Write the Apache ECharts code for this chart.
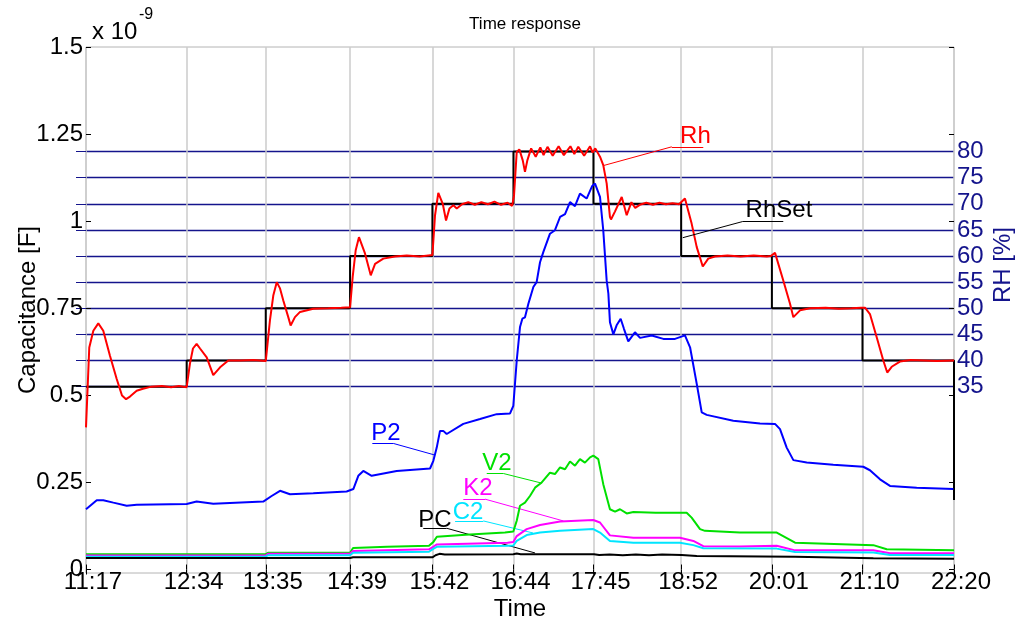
<!DOCTYPE html>
<html><head><meta charset="utf-8">
<script src="https://cdn.jsdelivr.net/npm/echarts@6/dist/echarts.min.js"></script>
<style>html,body{margin:0;padding:0;background:#fff}#c{width:1024px;height:627px}</style>
</head><body><div id="c"></div>
<script>
// ---- data (time in minutes after 11:17) ----
const tickTimes = [0, 76.9, 137.3, 201.7, 264.6, 326.5, 387.6, 454.6, 523.9, 593.1, 663];
const tickLabels = ['11:17','12:34','13:35','14:39','15:42','16:44','17:45','18:52','20:01','21:10','22:20'];
const capTicks = [0, 0.25, 0.5, 0.75, 1, 1.25, 1.5];
const rhTicks = [35, 40, 45, 50, 55, 60, 65, 70, 75, 80];

// relative humidity set point [%]
const rhSet = [[0,35],[76.9,35],[76.9,40],[137.3,40],[137.3,50],[201.7,50],[201.7,60],[264.6,60],[264.6,70],[326.5,70],[326.5,80],[387.6,80],[387.6,70],[454.6,70],[454.6,60],[523.9,60],[523.9,50],[593.1,50],[593.1,40],[663,40],[663,13.3]];
// measured relative humidity [%]
const rh = [[0,27.2],[2.5,42.5],[5.6,45.7],[9.4,47.1],[13.2,45.7],[18.3,40.9],[23.4,36.5],[27.5,33.3],[30.6,32.6],[33.6,33.1],[38.7,34.2],[43.5,34.6],[50,35.0],[58,35.1],[65,34.9],[71,35.1],[76.9,34.9],
[79.4,39.4],[81.7,42.3],[84.5,43.2],[87.1,42.3],[92.2,40.6],[97.2,37.2],[102.4,38.7],[108.7,40.0],[118,40.0],[128,40.1],[137.3,39.9],
[140.5,47.7],[143.1,52.5],[145.7,55.0],[148.2,53.8],[150.7,51.5],[154.5,48.3],[156.3,46.7],[159.6,48.3],[163.5,49.3],[173.6,49.9],[185,50.0],[195,50.1],[201.7,50.2],
[203.7,56.0],[206,61.1],[208.5,63.6],[213.1,60.5],[217.5,56.3],[220.8,58.5],[227.1,59.5],[236,59.9],[245,60.1],[255,59.9],[264.6,60.2],
[266.6,67.8],[269.1,72.1],[272.5,70.0],[275,66.8],[277.6,69.1],[280.6,69.7],[283.2,69.1],[287.2,69.9],[292,70.3],[297,69.8],[302,70.3],[307,69.9],[312,70.4],[317,69.8],[322,70.2],[325.5,69.6],
[326.9,71.5],[329,79.9],[331,80.4],[333.6,78.3],[335.3,76.1],[337.1,78.3],[340,80.6],[343.5,79.0],[347,80.8],[349.5,79.3],[352.5,80.9],[356.5,79.2],[361,81.0],[365,79.3],[370,81.0],[373,79.5],[376,80.9],[380.5,79.2],[385,81.0],[387,79.8],[389,80.6],
[392.6,79.0],[395.1,77.4],[397.7,73.9],[400.2,67.5],[401,67.0],[404,68.5],[409.2,71.3],[413,67.8],[416.6,70.3],[419.5,69.2],[423,69.8],[428,70.2],[433,69.8],[438,70.2],[443,69.9],[448,70.1],[453,69.9],
[457.5,71.0],[462.6,66.2],[466.5,61.7],[471.1,58.0],[475.3,59.5],[480.4,59.9],[490,60.1],[500,59.9],[510,60.1],[520,59.9],[523,60.0],
[526.3,60.6],[532.6,55.3],[537.7,50.9],[540.3,48.3],[545.4,49.6],[553,50.0],[565,50.1],[575,49.9],[585,50.0],[592,50.1],[595,50.1],
[598.8,48.9],[603.9,44.5],[609,40.0],[612,37.7],[615.4,38.8],[621.7,39.8],[630,40.1],[640,40.0],[650,39.9],[663,40.0]];
// capacitances [x1e-9 F]
const p2 = [[0,0.173],[8.2,0.199],[13.2,0.199],[20.9,0.192],[31.1,0.183],[38.7,0.186],[76.9,0.188],[84.5,0.195],[97.2,0.189],[135.4,0.195],[141.8,0.211],[148.2,0.226],[155.8,0.216],[173.6,0.219],[199.1,0.224],[204.2,0.231],[208,0.269],[211.8,0.283],[218.2,0.269],[237.3,0.283],[262.8,0.290],[265.3,0.312],[267.9,0.350],[270.4,0.398],[272.9,0.398],[275.5,0.389],[288.2,0.418],[301,0.432],[313.7,0.446],[323.9,0.448],[326.4,0.470],[329,0.600],[331.5,0.696],[333.3,0.720],[335.3,0.724],[337.9,0.763],[341.7,0.811],[344.2,0.825],[346.8,0.882],[349.3,0.911],[354.4,0.964],[358.2,0.974],[362.1,1.012],[365.9,1.020],[369.7,1.055],[373.5,1.043],[377.3,1.079],[382.4,1.065],[386.5,1.100],[388.8,1.108],[392.6,1.070],[395.1,0.974],[397.7,0.830],[399,0.792],[400.2,0.710],[402.8,0.675],[405.3,0.701],[408.4,0.720],[410.9,0.691],[414.2,0.655],[419.3,0.681],[423.2,0.665],[432.1,0.672],[441,0.662],[449.9,0.662],[457.5,0.672],[461.4,0.638],[466.5,0.533],[470.3,0.451],[474.1,0.444],[494.4,0.427],[514.8,0.419],[526.3,0.418],[530.1,0.403],[535.2,0.350],[540.3,0.314],[550.5,0.307],[570.8,0.301],[593.7,0.295],[598.8,0.285],[606.5,0.259],[614.1,0.240],[634.5,0.235],[662.5,0.231]];
const v2 = [[0,0.044],[137.3,0.044],[139,0.048],[201.7,0.048],[204,0.062],[230,0.065],[262,0.068],[265.5,0.080],[268,0.094],[290,0.100],[320,0.106],[326.4,0.109],[329,0.140],[331.5,0.183],[335.3,0.192],[339.1,0.211],[343,0.235],[348.1,0.250],[354.4,0.278],[358.2,0.274],[362.1,0.293],[365.9,0.288],[369.7,0.310],[373.5,0.298],[377.3,0.317],[381.1,0.307],[385,0.322],[387.5,0.327],[391.3,0.317],[395.1,0.245],[400.2,0.173],[404.1,0.166],[407.9,0.173],[413,0.161],[418.1,0.165],[435,0.163],[458.8,0.163],[462.6,0.149],[469,0.116],[472.8,0.111],[499.5,0.106],[527.6,0.106],[541.6,0.077],[601.4,0.070],[611.6,0.058],[663,0.055]];
const k2 = [[0,0.040],[137.3,0.040],[139,0.045],[201.7,0.045],[204,0.053],[262,0.058],[265.5,0.066],[268,0.072],[322,0.077],[326.4,0.079],[329,0.096],[336.6,0.116],[346.8,0.128],[362.1,0.138],[387.5,0.142],[392.6,0.135],[400.2,0.098],[418.1,0.091],[453.7,0.091],[463.9,0.082],[471.5,0.067],[499.5,0.066],[527.6,0.068],[541.6,0.055],[601.4,0.055],[614.1,0.047],[663,0.047]];
const c2 = [[0,0.037],[137.3,0.037],[139,0.041],[201.7,0.041],[204,0.048],[262,0.051],[265.5,0.060],[268,0.065],[322,0.068],[326.4,0.069],[329,0.082],[336.6,0.099],[346.8,0.106],[362.1,0.111],[387.5,0.116],[392.6,0.106],[400.2,0.082],[418.1,0.077],[453.7,0.077],[463.9,0.070],[471.5,0.061],[527.6,0.060],[541.6,0.050],[601.4,0.049],[614.1,0.042],[663,0.042]];
const pc = [[0,0.033],[201.7,0.033],[204,0.035],[264.6,0.035],[267,0.041],[270,0.045],[274,0.043],[326.4,0.044],[329,0.046],[332,0.044],[388,0.044],[392,0.042],[400,0.043],[410,0.041],[420,0.043],[430,0.041],[440,0.043],[455,0.042],[466.5,0.039],[541.6,0.037],[601.4,0.032],[663,0.031]];

// ---- chart ----
const FF = '"Liberation Sans", Arial, Helvetica, sans-serif';
const NAVY = '#14148c';

function note(text, color, tx, ty, u1, u2, uy, lx, ly, from) {
  return {
    markLine: {
      silent: true, animation: false, symbol: ['none', 'none'],
      label: { show: false }, emphasis: { disabled: true },
      lineStyle: { color: color, width: 1, type: 'solid' },
      data: [
        [{ coord: [u1, uy] }, { coord: [u2, uy] }],
        [{ coord: [from, uy] }, { coord: [lx, ly] }]
      ]
    },
    markPoint: {
      silent: true, animation: false, symbol: 'circle', symbolSize: 1,
      itemStyle: { color: 'rgba(0,0,0,0)' },
      label: { show: true, position: 'inside', formatter: text, color: color, fontSize: 24, fontFamily: FF },
      data: [{ coord: [tx, ty] }]
    }
  };
}

function line(name, data, color, yIdx, extra, z) {
  return Object.assign({
    type: 'line', name: name, data: data, yAxisIndex: yIdx, xAxisIndex: 0,
    showSymbol: false, symbol: 'none', animation: false, z: z,
    lineStyle: { color: color, width: 2 }, itemStyle: { color: color },
    emphasis: { disabled: true }
  }, extra || {});
}

const chart = echarts.init(document.getElementById('c'), null, { renderer: 'canvas' });
chart.setOption({
  backgroundColor: '#fff',
  animation: false,
  textStyle: { fontFamily: FF },
  title: {
    text: 'Time response', left: 520, top: 11, textAlign: 'center',
    textStyle: { fontSize: 17, fontWeight: 'normal', color: '#000', fontFamily: FF }
  },
  grid: { left: 86, right: 70, top: 47, bottom: 54, show: true, borderColor: '#b4b4b4', borderWidth: 1, containLabel: false, outerBoundsMode: 'none' },
  xAxis: [{
    type: 'value', min: 0, max: 663, position: 'bottom',
    axisLine: { show: false },
    axisTick: { show: true, inside: true, length: 5, customValues: tickTimes, lineStyle: { color: '#000' } },
    axisLabel: {
      customValues: tickTimes, fontSize: 24, color: '#000', margin: -3, fontFamily: FF,
      padding: [0, 0, 0, 14],
      formatter: function (v) {
        let best = 0;
        for (let i = 1; i < tickTimes.length; i++) if (Math.abs(tickTimes[i] - v) < Math.abs(tickTimes[best] - v)) best = i;
        return tickLabels[best];
      }
    },
    splitLine: { show: true, lineStyle: { color: '#cbcbcb', width: 1.5 } },
    name: 'Time', nameLocation: 'middle', nameGap: 24, nameMoveOverlap: false,
    nameTextStyle: { fontSize: 24, color: '#000', fontFamily: FF }
  }, {
    type: 'value', min: 0, max: 663, position: 'top',
    axisLine: { show: false },
    axisTick: { show: true, inside: true, length: 5, customValues: tickTimes, lineStyle: { color: '#000' } },
    axisLabel: { show: false }, splitLine: { show: false }
  }],
  yAxis: [{
    type: 'value', position: 'left', min: -0.01, max: 1.5,
    axisLine: { show: false },
    axisTick: { show: true, inside: true, length: 5, customValues: capTicks, lineStyle: { color: '#000' } },
    axisLabel: { customValues: capTicks, fontSize: 24, color: '#000', margin: 3, fontFamily: FF },
    splitLine: { show: false },
    name: 'Capacitance [F]', nameLocation: 'middle', nameGap: 46, nameRotate: 90, nameMoveOverlap: false,
    nameTextStyle: { fontSize: 24, color: '#000', fontFamily: FF }
  }, {
    type: 'value', position: 'right', min: -0.6667, max: 100,
    axisLine: { show: false },
    axisTick: { show: true, inside: true, length: 10, customValues: rhTicks, lineStyle: { color: NAVY } },
    axisLabel: { customValues: rhTicks, fontSize: 24, color: NAVY, margin: 3, fontFamily: FF },
    splitLine: { show: true, lineStyle: { color: NAVY, width: 1.3 } }
  }, {
    type: 'value', position: 'right', min: -0.01, max: 1.5,
    axisLine: { show: false },
    axisTick: { show: true, inside: true, length: 5, customValues: capTicks, lineStyle: { color: '#000' } },
    axisLabel: { show: false }, splitLine: { show: false }
  }],
  graphic: [
    { type: 'text', left: 92, top: 20, style: { text: 'x 10', font: '24px ' + FF, fill: '#000' } },
    { type: 'text', left: 139, top: 7, style: { text: '-9', font: '16px ' + FF, fill: '#000' } },
    { type: 'text', x: 1003, y: 265, rotation: Math.PI / 2,
      style: { text: 'RH [%]', font: '24px ' + FF, fill: NAVY, align: 'center', verticalAlign: 'middle' } }
  ],
  series: [
    line('RhSet', rhSet, '#000000', 1, note('RhSet', '#000', 529.3, 68.7, 501.6, 532.6, 66.6, 455.8, 63.5, 501.6), 3),
    line('Rh', rh, '#ff0000', 1, note('Rh', '#ff0000', 465.5, 82.9, 447.4, 471.5, 80.9, 395.1, 77.3, 447.4), 4),
    line('P2', p2, '#0000ff', 0, note('P2', '#0000ff', 229.1, 0.392, 218.7, 234.7, 0.362, 266.6, 0.3285, 234.7), 5),
    line('V2', v2, '#00e000', 0, note('V2', '#00e000', 313.9, 0.305, 306.1, 318.8, 0.2756, 348.1, 0.248, 318.8), 5),
    line('K2', k2, '#ff00ff', 0, note('K2', '#ff00ff', 299.4, 0.233, 288.2, 304.8, 0.202, 364.6, 0.1395, 304.8), 5),
    line('C2', c2, '#00e5ff', 0, note('C2', '#00e5ff', 291.8, 0.163, 281.9, 303.5, 0.1395, 341.4, 0.105, 303.5), 5),
    line('PC', pc, '#000000', 0, note('PC', '#000', 266.6, 0.141, 257.6, 275.5, 0.1185, 343, 0.0475, 275.5), 5)
  ]
});
</script></body></html>
